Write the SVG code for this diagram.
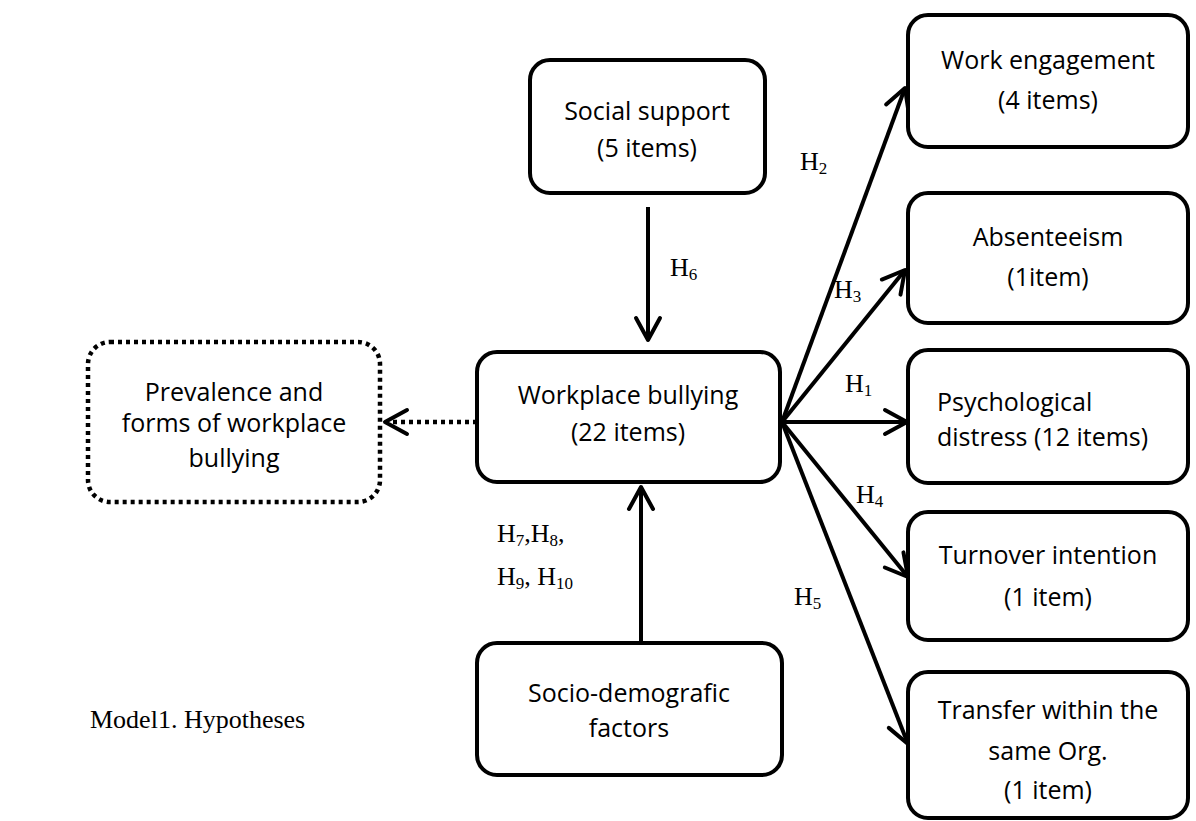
<svg xmlns="http://www.w3.org/2000/svg" width="1196" height="821" viewBox="0 0 1196 821">
<defs>
<style>
.box{fill:#fff;stroke:#000;stroke-width:4}
.dot{fill:none;stroke:#000;stroke-width:4.5;stroke-dasharray:4 4}
.t{font-family:"Open Sans","Liberation Sans",sans-serif;font-size:25px;fill:#000;text-anchor:middle}
.tl{font-family:"Open Sans","Liberation Sans",sans-serif;font-size:25px;fill:#000}
.h{font-family:"Liberation Serif","Times New Roman",serif;font-size:26px;fill:#000}
.s{font-size:17px}
.c{stroke:#000;stroke-width:4;fill:none}
.cd{stroke:#000;stroke-width:4.5;fill:none;stroke-dasharray:4 4}
</style>
<marker id="ah" markerUnits="userSpaceOnUse" markerWidth="40" markerHeight="40" refX="23" refY="13" orient="auto" overflow="visible">
<path d="M1,1 L23,13 L1,25" fill="none" stroke="#000" stroke-width="4" stroke-linecap="round" stroke-linejoin="round"/>
</marker>
</defs>
<rect width="1196" height="821" fill="#fff"/>

<g id="connectors">
<line class="c" x1="648" y1="207" x2="648" y2="340" marker-end="url(#ah)"/>
<line class="c" x1="641" y1="643" x2="641" y2="487" marker-end="url(#ah)"/>
<line class="cd" x1="477" y1="422" x2="386" y2="422"/>
<path d="M407,410 L385,422 L407,434" class="c" stroke-linecap="round" stroke-linejoin="round"/>
<line class="c" x1="782" y1="422" x2="905" y2="88" marker-end="url(#ah)"/>
<line class="c" x1="782" y1="422" x2="905" y2="270" marker-end="url(#ah)"/>
<line class="c" x1="782" y1="422" x2="907" y2="422" marker-end="url(#ah)"/>
<line class="c" x1="782" y1="422" x2="908" y2="577" marker-end="url(#ah)"/>
<line class="c" x1="782" y1="422" x2="908" y2="744" marker-end="url(#ah)"/>
<text class="h" x="800" y="170">H<tspan class="s" baseline-shift="-4">2</tspan></text>
<text class="h" x="834" y="298">H<tspan class="s" baseline-shift="-4">3</tspan></text>
<text class="h" x="845" y="392">H<tspan class="s" baseline-shift="-4">1</tspan></text>
<text class="h" x="856" y="503">H<tspan class="s" baseline-shift="-4">4</tspan></text>
<text class="h" x="794" y="605">H<tspan class="s" baseline-shift="-4">5</tspan></text>
<text class="h" x="670" y="276">H<tspan class="s" baseline-shift="-4">6</tspan></text>
<text class="h" x="497" y="542">H<tspan class="s" baseline-shift="-4">7</tspan>,H<tspan class="s" baseline-shift="-4">8</tspan>,</text>
<text class="h" x="497" y="585">H<tspan class="s" baseline-shift="-4">9</tspan>, H<tspan class="s" baseline-shift="-4">10</tspan></text>
</g>

<g id="social-support">
<rect class="box" x="530" y="60" width="235" height="133" rx="20"/>
<text class="t" x="647" y="120">Social support</text>
<text class="t" x="647" y="157">(5 items)</text>
</g>
<g id="workplace-bullying">
<rect class="box" x="477" y="352" width="303" height="130" rx="20"/>
<text class="t" x="628" y="404">Workplace bullying</text>
<text class="t" x="628" y="441">(22 items)</text>
</g>
<g id="prevalence">
<rect class="dot" x="88" y="342" width="292" height="160" rx="22"/>
<text class="t" x="234" y="401">Prevalence and</text>
<text class="t" x="234" y="432">forms of workplace</text>
<text class="t" x="234" y="467">bullying</text>
</g>
<g id="socio-demographic">
<rect class="box" x="477" y="643" width="305" height="132" rx="20"/>
<text class="t" x="629" y="702">Socio-demografic</text>
<text class="t" x="629" y="737">factors</text>
</g>
<g id="work-engagement">
<rect class="box" x="908" y="15" width="280" height="132" rx="20"/>
<text class="t" x="1048" y="69">Work engagement</text>
<text class="t" x="1048" y="109">(4 items)</text>
</g>
<g id="absenteeism">
<rect class="box" x="908" y="193" width="280" height="130" rx="20"/>
<text class="t" x="1048" y="246">Absenteeism</text>
<text class="t" x="1048" y="286">(1item)</text>
</g>
<g id="psychological-distress">
<rect class="box" x="908" y="350" width="280" height="133" rx="20"/>
<text class="tl" x="937" y="411">Psychological</text>
<text class="tl" x="937" y="446">distress (12 items)</text>
</g>
<g id="turnover-intention">
<rect class="box" x="908" y="512" width="280" height="128" rx="20"/>
<text class="t" x="1048" y="564">Turnover intention</text>
<text class="t" x="1048" y="606">(1 item)</text>
</g>
<g id="transfer">
<rect class="box" x="908" y="672" width="280" height="146" rx="20"/>
<text class="t" x="1048" y="719">Transfer within the</text>
<text class="t" x="1048" y="760">same Org.</text>
<text class="t" x="1048" y="799">(1 item)</text>
</g>
<text class="h" x="90" y="728">Model1. Hypotheses</text>
</svg>
